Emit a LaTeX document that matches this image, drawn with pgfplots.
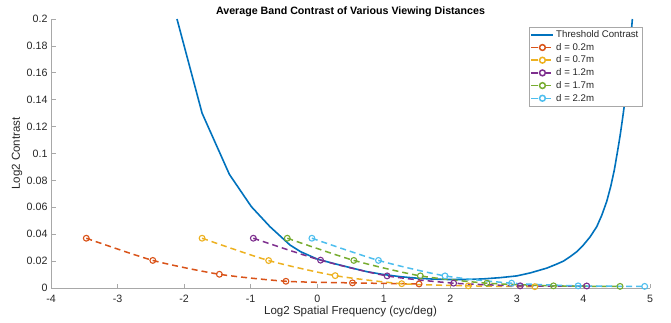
\documentclass[border=0pt]{standalone}
\usepackage{fontspec}
\setmainfont{Liberation Sans}
\usepackage{pgfplots}
\pgfplotsset{compat=1.18}
\definecolor{mblue}{HTML}{0072BD}
\definecolor{mred}{HTML}{D95319}
\definecolor{myellow}{HTML}{EDB120}
\definecolor{mpurple}{HTML}{7E2F8E}
\definecolor{mgreen}{HTML}{77AC30}
\definecolor{mcyan}{HTML}{4DBEEE}
\definecolor{axgray}{HTML}{A8A8A8}
\definecolor{txtgray}{HTML}{262626}
\pgfplotsset{
  slegend/.style={legend image code/.code={\draw[##1] (0bp,0bp) -- (22bp,0bp);}},
  dlegend/.style={legend image code/.code={
    \draw[##1, dash pattern=on 6.5bp off 8.5bp on 5bp off 100bp] (0bp,0bp) -- (20bp,0bp);
    \draw[##1, solid] plot[mark=o, mark options={solid}] coordinates {(11bp,0bp)};}},
}
\begin{document}
\begin{tikzpicture}
\path[use as bounding box] (-51bp,-35bp) rectangle (620bp,288bp);
\begin{axis}[
  at={(0,0)}, anchor=south west,
  scale only axis, width=599bp, height=269bp,
  xmin=-4, xmax=5, ymin=0, ymax=0.2,
  axis x line*=bottom, axis y line*=left,
  axis line style={axgray, line width=0.6bp, -},
  every tick/.style={axgray, line width=0.6bp},
  tick align=inside, major tick length=4.5bp,
  xtick={-4,-3,...,5},
  ytick={0,0.02,...,0.2},
  scaled y ticks=false,
  /pgf/number format/assume math mode=true,
  yticklabel style={/pgf/number format/fixed, /pgf/number format/precision=2},
  xticklabel style={yshift=-3.5bp},
  ticklabel style={font=\fontsize{10.7}{12}\selectfont, text=txtgray},
  xlabel={Log2 Spatial Frequency (cyc/deg)},
  ylabel={Log2 Contrast},
  xlabel style={yshift=3bp},
  ylabel style={yshift=-2.5bp},
  label style={font=\fontsize{11.6}{13}\selectfont, text=txtgray},
  title={Average Band Contrast of Various Viewing Distances},
  title style={font=\bfseries\fontsize{10.7}{12}\selectfont, yshift=-7.5bp},
  legend cell align=left,
  legend style={at={(rel axis cs:0.987,0.971)}, anchor=north east,
    draw=axgray, line width=0.6bp, font=\fontsize{9.7}{11}\selectfont, text=txtgray,
    inner sep=1.5bp, row sep=0.2bp},
  every axis plot/.append style={line width=1.5bp},
  mark options={solid, line width=1.1bp},
]
\addplot[mblue, line width=1.6bp, slegend] coordinates {
(-2.107,0.2) (-1.73,0.130) (-1.32,0.0845) (-0.99,0.0605) (-0.71,0.0456)
(-0.41,0.032) (-0.25,0.027) (0,0.0215) (0.25,0.0182) (0.5,0.0151)
(0.75,0.0121) (1.0,0.0100) (1.25,0.0084) (1.5,0.0073) (1.75,0.0066)
(2.0,0.0063) (2.25,0.0063) (2.5,0.0068) (2.75,0.0077) (3.0,0.009)
(3.2,0.0112) (3.45,0.0148) (3.6,0.0178) (3.7,0.020) (3.8,0.0233) (3.9,0.027) (4.0,0.032)
(4.1,0.038) (4.2,0.0456) (4.275,0.054) (4.35,0.0644) (4.41,0.0755) (4.465,0.088)
(4.51,0.101) (4.55,0.113) (4.585,0.125) (4.615,0.136) (4.65,0.154) (4.70,0.179) (4.735,0.2)};
\addlegendentry{Threshold Contrast}
\addplot[mred, dash pattern=on 6bp off 4bp, mark=o, mark size=2.9bp, smooth, tension=0.4, dlegend] coordinates {
(-3.47,0.037) (-2.47,0.0205) (-1.47,0.0102) (-0.47,0.005) (0.53,0.0038) (1.53,0.003)};
\addlegendentry{d = 0.2m}
\addplot[myellow, dash pattern=on 6bp off 4bp, mark=o, mark size=2.9bp, smooth, tension=0.4, dlegend] coordinates {
(-1.73,0.037) (-0.73,0.0204) (0.27,0.0092) (1.27,0.0032) (2.27,0.0016) (3.27,0.001)};
\addlegendentry{d = 0.7m}
\addplot[mpurple, dash pattern=on 6bp off 4bp, mark=o, mark size=2.9bp, smooth, tension=0.4, dlegend] coordinates {
(-0.96,0.037) (0.05,0.0207) (1.05,0.009) (2.05,0.0036) (3.05,0.0016) (4.05,0.0015)};
\addlegendentry{d = 1.2m}
\addplot[mgreen, dash pattern=on 6bp off 4bp, mark=o, mark size=2.9bp, smooth, tension=0.4, dlegend] coordinates {
(-0.45,0.037) (0.55,0.0205) (1.55,0.009) (2.55,0.0036) (3.55,0.0016) (4.55,0.0012)};
\addlegendentry{d = 1.7m}
\addplot[mcyan, dash pattern=on 6bp off 4bp, mark=o, mark size=2.9bp, smooth, tension=0.4, dlegend] coordinates {
(-0.08,0.037) (0.92,0.0205) (1.92,0.009) (2.92,0.0036) (3.92,0.0016) (4.92,0.0012)};
\addlegendentry{d = 2.2m}
\end{axis}
\end{tikzpicture}
\end{document}
